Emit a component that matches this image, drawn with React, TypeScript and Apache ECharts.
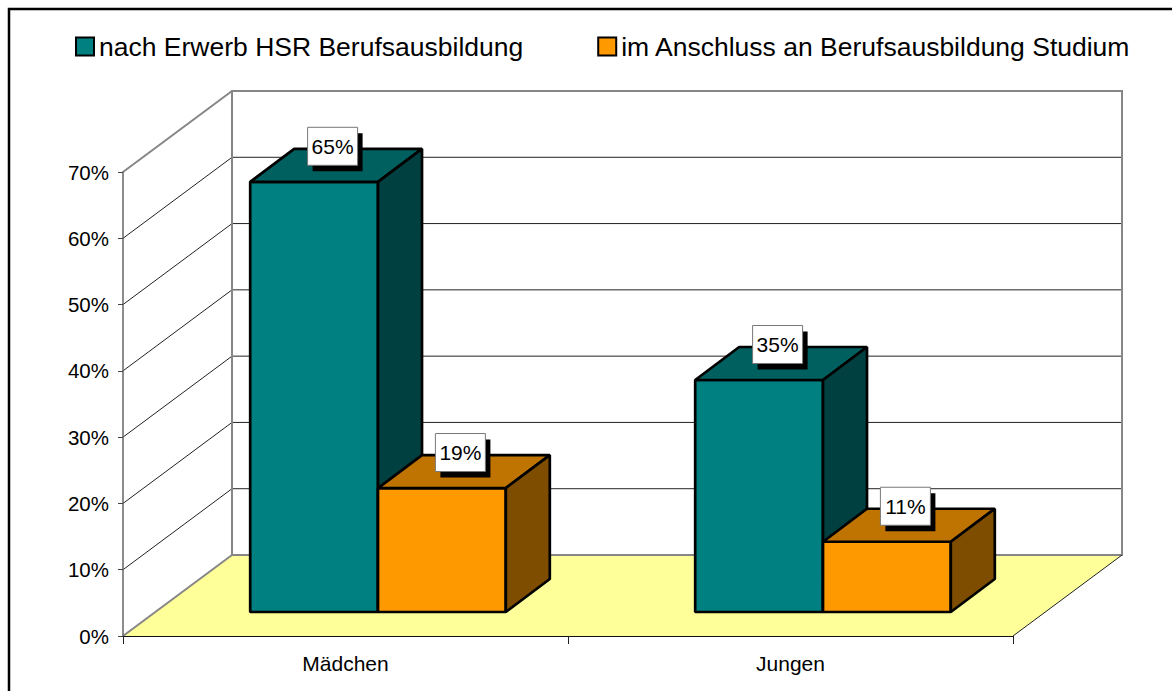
import React, { useEffect, useRef } from "react";
import * as echarts from "echarts";

const categories = ["Mädchen", "Jungen"];
const seriesNames = ["nach Erwerb HSR Berufsausbildung", "im Anschluss an Berufsausbildung Studium"];
const tealValues = [64.9, 35];
const orangeValues = [18.7, 10.6];
const yTicks = [0, 10, 20, 30, 40, 50, 60, 70];
const FONT = '"Liberation Sans", Arial, sans-serif';

// Depth of the floor and of the bars, in pixels
const DX = 109, DY = -81;
const FRONT_X = 32.5, FRONT_Y = -24;
const BAR_DX = 44, BAR_DY = -33;
const BAR_SHARE = 0.2872;

const lineEl = (a: number[], b: number[], stroke: string, lineWidth: number) => ({
  type: "line",
  shape: { x1: a[0], y1: a[1], x2: b[0], y2: b[1] },
  style: { stroke, lineWidth, fill: "none" },
});

const polyEl = (points: number[][], fill: string) => ({
  type: "polygon",
  shape: { points },
  style: { fill, stroke: "#000", lineWidth: 2.7, lineJoin: "bevel" },
});

const renderWalls = (_p: any, api: any) => {
  const x0 = api.coord([0, 0])[0] - api.size([1, 0])[0] / 2;
  const x1 = x0 + api.size([1, 0])[0] * categories.length;
  const y0 = api.coord([0, 0])[1];
  const yTop = api.coord([0, 70])[1];
  const children: any[] = [];
  children.push({
    type: "polygon",
    shape: { points: [[x0, y0], [x1, y0], [x1 + DX, y0 + DY], [x0 + DX, y0 + DY]] },
    style: { fill: "#FFFF99", stroke: "none" },
  });
  yTicks.slice(1, -1).forEach((t) => {
    const y = api.coord([0, t])[1];
    children.push(lineEl([x0, y], [x0 + DX, y + DY], "#222", 1));
    children.push(lineEl([x0 + DX, y + DY], [x1 + DX, y + DY], "#222", 1));
  });
  children.push(lineEl([x0, yTop], [x0 + DX, yTop + DY], "#868686", 2));
  children.push(lineEl([x0, y0], [x0 + DX, y0 + DY], "#868686", 2));
  children.push({
    type: "rect",
    shape: { x: x0 + DX, y: yTop + DY, width: x1 - x0, height: y0 - yTop },
    style: { fill: "none", stroke: "#868686", lineWidth: 2 },
  });
  children.push(lineEl([x1, y0], [x1 + DX, y0 + DY], "#222", 1));
  return { type: "group", children };
};

const renderBar = (side: number, front: string, top: string, right: string) => (_p: any, api: any) => {
  const band = api.size([1, 0])[0];
  const w = band * BAR_SHARE;
  const value = api.value(1);
  const base = api.coord([api.value(0), 0]);
  const head = api.coord([api.value(0), value]);
  const cx = base[0] + FRONT_X;
  const l = side === 0 ? cx - w : cx;
  const r = l + w;
  const yb = base[1] + FRONT_Y;
  const yt = head[1] + FRONT_Y;
  const lx = l + w / 2 + 18.5;
  const ly = yt - 35.5;
  return {
    type: "group",
    children: [
      polyEl([[l, yb], [r, yb], [r, yt], [l, yt]], front),
      polyEl([[l, yt], [r, yt], [r + BAR_DX, yt + BAR_DY], [l + BAR_DX, yt + BAR_DY]], top),
      polyEl([[r, yb], [r + BAR_DX, yb + BAR_DY], [r + BAR_DX, yt + BAR_DY], [r, yt]], right),
      { type: "rect", shape: { x: lx - 20, y: ly - 13, width: 50, height: 38 }, style: { fill: "#000" } },
      { type: "rect", shape: { x: lx - 25, y: ly - 19, width: 50, height: 38 }, style: { fill: "#fff", stroke: "#777", lineWidth: 1 } },
      {
        type: "text",
        style: {
          x: lx, y: ly, text: Math.round(value) + "%",
          font: `21px ${FONT}`, fill: "#000", align: "center", verticalAlign: "middle",
        },
      },
    ],
  };
};

export default function App() {
  const ref = useRef<HTMLDivElement>(null);
  useEffect(() => {
    document.body.style.margin = "0";
    const chart = echarts.init(ref.current!, null, { renderer: "svg" });
    chart.setOption({
      animation: false,
      backgroundColor: "#fff",
      grid: { left: 123, top: 172, width: 890, height: 464, containLabel: false },
      legend: {
        left: 75, top: 33, padding: 0, itemWidth: 18, itemHeight: 18, itemGap: 74,
        selectedMode: false,
        textStyle: { fontFamily: FONT, fontSize: 26.5, color: "#000" },
        data: [
          { name: seriesNames[0], icon: "rect", itemStyle: { color: "#008080", borderColor: "#000", borderWidth: 2 } },
          { name: seriesNames[1], icon: "rect", itemStyle: { color: "#FF9900", borderColor: "#000", borderWidth: 2 } },
        ],
      },
      xAxis: {
        type: "category",
        data: categories,
        z: 5,
        axisLine: { show: true, lineStyle: { color: "#111", width: 1 } },
        axisTick: { show: true, length: 8, lineStyle: { color: "#222", width: 1 } },
        axisLabel: { fontFamily: FONT, fontSize: 21, color: "#000", margin: 17 },
      },
      yAxis: {
        type: "value",
        min: 0, max: 70, interval: 10,
        z: 5,
        axisLine: { show: true, lineStyle: { color: "#666", width: 1.5 } },
        axisTick: { show: true, length: 5, lineStyle: { color: "#444" } },
        axisLabel: { fontFamily: FONT, fontSize: 20.5, color: "#000", margin: 14, formatter: "{value}%" },
        splitLine: { show: false },
      },
      graphic: [
        {
          type: "rect",
          shape: { x: 9, y: 9, width: 1300, height: 800 },
          style: { fill: "none", stroke: "#000", lineWidth: 2.5 },
          silent: true,
        },
      ],
      series: [
        { type: "custom", name: "Wände", z: 1, data: [[0, 0]], renderItem: renderWalls, encode: { x: 0, y: 1 }, silent: true },
        {
          type: "custom", name: seriesNames[0], z: 2,
          data: tealValues.map((v, i) => [i, v]),
          renderItem: renderBar(0, "#008080", "#006060", "#004040"),
          encode: { x: 0, y: 1 },
        },
        {
          type: "custom", name: seriesNames[1], z: 3,
          data: orangeValues.map((v, i) => [i, v]),
          renderItem: renderBar(1, "#FF9900", "#BF7300", "#7F4D00"),
          encode: { x: 0, y: 1 },
        },
      ],
    });
    return () => chart.dispose();
  }, []);
  return <div ref={ref} style={{ position: "absolute", left: 0, top: 0, width: 1172, height: 691 }} />;
}
